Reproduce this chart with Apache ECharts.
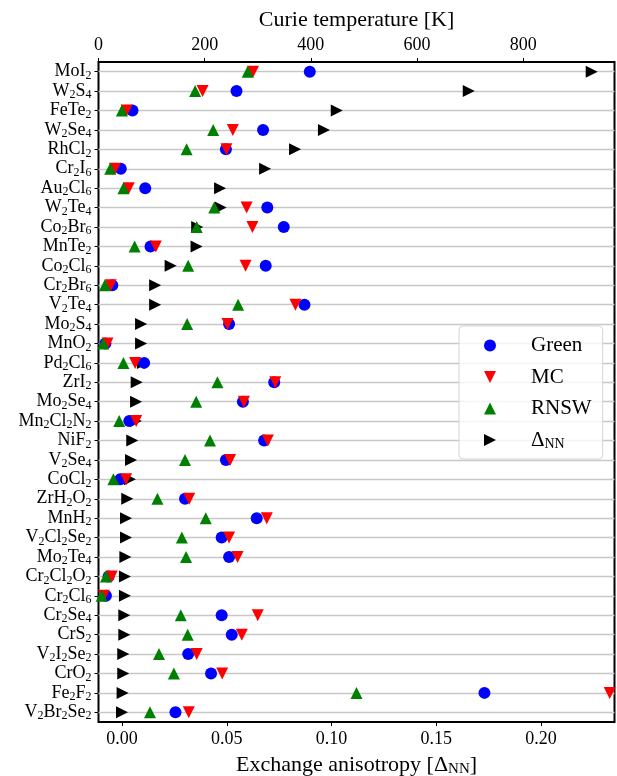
<!DOCTYPE html>
<html>
<head>
<meta charset="utf-8">
<script src="https://cdn.jsdelivr.net/npm/echarts@6/dist/echarts.min.js"></script>
<style>
  html, body { margin: 0; padding: 0; background: #fff; }
  #chart { width: 617px; height: 776px; }
</style>
</head>
<body>
<div id="chart"></div>
<script>
const materials = ['MoI2', 'W2S4', 'FeTe2', 'W2Se4', 'RhCl2', 'Cr2I6', 'Au2Cl6', 'W2Te4', 'Co2Br6', 'MnTe2',
  'Co2Cl6', 'Cr2Br6', 'V2Te4', 'Mo2S4', 'MnO2', 'Pd2Cl6', 'ZrI2', 'Mo2Se4', 'Mn2Cl2N2', 'NiF2',
  'V2Se4', 'CoCl2', 'ZrH2O2', 'MnH2', 'V2Cl2Se2', 'Mo2Te4', 'Cr2Cl2O2', 'Cr2Cl6', 'Cr2Se4', 'CrS2',
  'V2I2Se2', 'CrO2', 'Fe2F2', 'V2Br2Se2']
// Curie temperatures [K]
const green = [398, 260, 64, 310, 240, 42, 88, 318, 349, 98,
  315, 26, 388, 246, 13, 86, 331, 272, 58, 312,
  240, 41, 163, 298, 232, 246, 19, 14, 232, 251,
  169, 212, 727, 145]
const mc = [291, 196, 53, 253, 241, 31, 57, 279, 290, 108,
  277, 23, 371, 243, 17, 69, 333, 274, 71, 319,
  248, 52, 171, 317, 246, 262, 25, 10, 300, 270,
  185, 233, 963, 170]
const rnsw = [281, 182, 44, 216, 166, 22, 47, 218, 185, 68,
  169, 12, 263, 167, 9, 47, 224, 184, 39, 210,
  163, 28, 111, 202, 157, 165, 14, 6, 155, 168,
  114, 142, 486, 97]
// exchange anisotropy
const deltaNN = [0.2242, 0.1655, 0.1025, 0.0964, 0.0826, 0.0683, 0.0468, 0.0471, 0.0359, 0.0356,
  0.0232, 0.0158, 0.0158, 0.0091, 0.0091, 0.0100, 0.0070, 0.0067, 0.0066, 0.0049,
  0.0043, 0.0038, 0.0025, 0.0019, 0.0019, 0.0016, 0.0014, 0.0014, 0.0011, 0.0011,
  0.0006, 0.0006, 0.0003, 0.0]
const tempTicks = [0, 200, 400, 600, 800]
const deltaTicks = [0, 0.05, 0.10, 0.15, 0.20]

const font = 'Liberation Serif'
const sub = v => v.replace(/(\d+)/g, '{s|$1}')
const downTri = 'path://M0,0 L10,0 L5,10 Z'
const rightTri = 'path://M0,0 L10,5 L0,10 Z'

let myChart = echarts.init(document.getElementById('chart'))

function pts(arr) {
  return arr.map((v, i) => [v, materials[i]])
}

let option = {
  animation: false,
  grid: {
    left: 98.5, top: 62, width: 516, height: 660,
    outerBoundsMode: 'none', containLabel: false,
    show: true, borderColor: '#000', borderWidth: 2, backgroundColor: 'transparent'
  },
  legend: {
    data: [
      { name: 'Green', icon: 'circle' },
      { name: 'MC', icon: downTri },
      { name: 'RNSW', icon: 'triangle' },
      { name: 'ΔNN', icon: rightTri }
    ],
    orient: 'vertical',
    left: 459, top: 326,
    padding: [9, 11, 8, 25],
    itemWidth: 12, itemHeight: 12, itemGap: 10.5,
    backgroundColor: 'rgba(255,255,255,0.8)',
    borderColor: '#d4d4d4', borderWidth: 1, borderRadius: 4,
    itemStyle: { opacity: 1 },
    formatter: function (name) {
      if (name === 'ΔNN') return '{t|Δ}{s|NN}'
      return '{t|' + name + '}'
    },
    textStyle: {
      fontFamily: font, fontSize: 21, color: '#000',
      rich: {
        t: { fontFamily: font, fontSize: 21, lineHeight: 22, padding: [0, 0, 0, 30] },
        s: { fontFamily: font, fontSize: 14, lineHeight: 10, verticalAlign: 'bottom' }
      }
    }
  },
  xAxis: [
    {
      type: 'value',
      position: 'top',
      min: 0, max: 972,
      name: 'Curie temperature [K]',
      nameLocation: 'middle', nameGap: 29,
      nameTextStyle: { fontFamily: font, fontSize: 22, color: '#000' },
      axisLine: { show: false },
      axisTick: { show: true, length: 4, customValues: tempTicks, lineStyle: { color: '#000', width: 1 } },
      axisLabel: {
        customValues: tempTicks, margin: 8,
        fontFamily: font, fontSize: 18, color: '#000',
        formatter: v => String(v)
      },
      splitLine: { show: false }
    },
    {
      type: 'value',
      position: 'bottom',
      min: -0.01122, max: 0.23508,
      name: 'Exchange anisotropy [Δ{s|NN}]',
      nameLocation: 'middle', nameGap: 26,
      nameTextStyle: {
        fontFamily: font, fontSize: 22, color: '#000', lineHeight: 24,
        rich: { s: { fontFamily: font, fontSize: 15, lineHeight: 12, verticalAlign: 'bottom' } }
      },
      axisLine: { show: false },
      axisTick: { show: true, length: 4, customValues: deltaTicks, lineStyle: { color: '#000', width: 1 } },
      axisLabel: {
        customValues: deltaTicks, margin: 8,
        fontFamily: font, fontSize: 18, color: '#000',
        formatter: v => v.toFixed(2)
      },
      splitLine: { show: false }
    }
  ],
  yAxis: {
    type: 'category',
    data: materials,
    inverse: true,
    axisLine: { show: false },
    axisTick: { show: true, interval: 0, alignWithLabel: true, length: 4, lineStyle: { color: '#000', width: 1 } },
    axisLabel: {
      interval: 0, margin: 7, fontFamily: font, fontSize: 18, color: '#000', lineHeight: 20,
      formatter: sub,
      rich: { s: { fontFamily: font, fontSize: 12, lineHeight: 10, verticalAlign: 'bottom' } }
    },
    splitLine: { show: false }
  },
  series: [
    {
      name: 'ΔNN', type: 'scatter', xAxisIndex: 1,
      symbol: 'triangle', symbolRotate: -90, symbolSize: 12,
      itemStyle: { color: '#000', opacity: 1 },
      data: pts(deltaNN),
      markLine: {
        silent: true, symbol: 'none', z: 1, animation: false,
        label: { show: false },
        lineStyle: { color: '#c8c8c8', width: 1.3, type: 'solid' },
        data: materials.map(m => ({ yAxis: m }))
      }
    },
    {
      name: 'Green', type: 'scatter', xAxisIndex: 0,
      symbol: 'circle', symbolSize: 12,
      itemStyle: { color: '#0000ff', opacity: 1 },
      data: pts(green)
    },
    {
      name: 'MC', type: 'scatter', xAxisIndex: 0,
      symbol: 'triangle', symbolRotate: 180, symbolSize: 12,
      itemStyle: { color: '#ff0000', opacity: 1 },
      data: pts(mc)
    },
    {
      name: 'RNSW', type: 'scatter', xAxisIndex: 0,
      symbol: 'triangle', symbolSize: 12,
      itemStyle: { color: '#008000', opacity: 1 },
      data: pts(rnsw)
    }
  ]
}
myChart.setOption(option)
</script>
</body>
</html>
